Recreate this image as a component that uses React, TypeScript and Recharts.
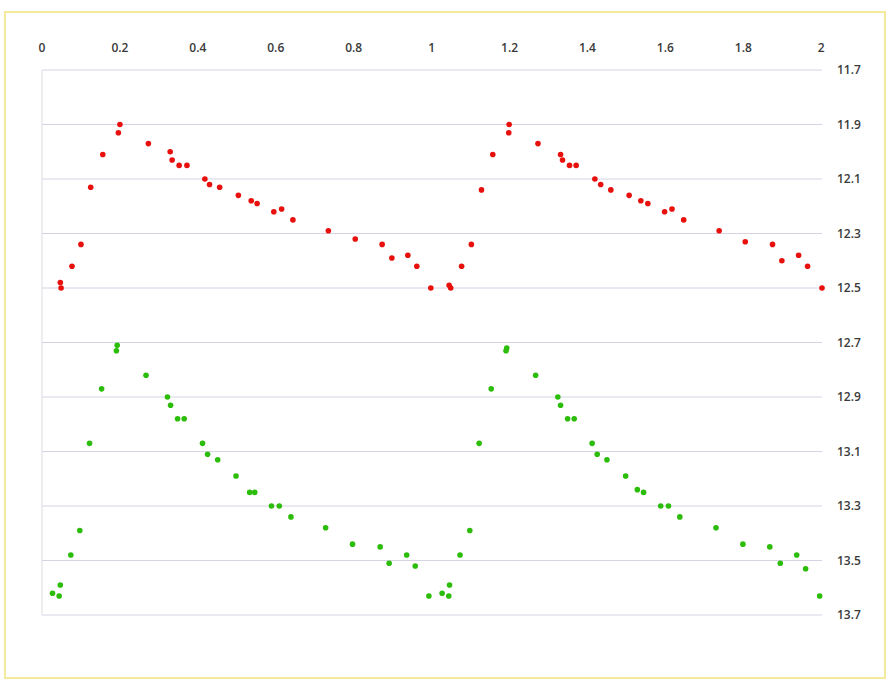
import { ScatterChart, Scatter, XAxis, YAxis, CartesianGrid, ReferenceLine } from "recharts"

// phase (0..2) and magnitude readings
const redPhase = [
  0.047, 0.049, 0.077, 0.1, 0.125, 0.156, 0.196, 0.2, 0.273, 0.329, 0.334, 0.352, 0.372, 0.418, 0.43, 0.456,
  0.504, 0.537, 0.552, 0.595, 0.615, 0.644, 0.735, 0.804, 0.873, 0.898, 0.939, 0.962, 0.998,
  1.045, 1.049, 1.077, 1.102, 1.128, 1.157, 1.198, 1.199, 1.273, 1.331, 1.336, 1.354, 1.371, 1.419, 1.434, 1.46,
  1.507, 1.537, 1.555, 1.598, 1.617, 1.647, 1.738, 1.805, 1.875, 1.899, 1.942, 1.965, 2.002,
]
const redMag = [
  12.48, 12.5, 12.42, 12.34, 12.13, 12.01, 11.93, 11.9, 11.97, 12.0, 12.03, 12.05, 12.05, 12.1, 12.12, 12.13,
  12.16, 12.18, 12.19, 12.22, 12.21, 12.25, 12.29, 12.32, 12.34, 12.39, 12.38, 12.42, 12.5,
  12.49, 12.5, 12.42, 12.34, 12.14, 12.01, 11.93, 11.9, 11.97, 12.01, 12.03, 12.05, 12.05, 12.1, 12.12, 12.14,
  12.16, 12.18, 12.19, 12.22, 12.21, 12.25, 12.29, 12.33, 12.34, 12.4, 12.38, 12.42, 12.5,
]

const greenPhase = [
  0.027, 0.044, 0.047, 0.074, 0.097, 0.122, 0.153, 0.191, 0.193, 0.267, 0.322, 0.33, 0.348, 0.365, 0.412, 0.425,
  0.451, 0.498, 0.533, 0.546, 0.589, 0.609, 0.639, 0.728, 0.797, 0.868, 0.891, 0.936, 0.958, 0.993,
  1.027, 1.044, 1.046, 1.073, 1.098, 1.122, 1.153, 1.191, 1.193, 1.267, 1.324, 1.331, 1.349, 1.366, 1.412, 1.425,
  1.45, 1.498, 1.528, 1.544, 1.588, 1.608, 1.637, 1.73, 1.799, 1.868, 1.895, 1.937, 1.96, 1.996,
]
const greenMag = [
  13.62, 13.63, 13.59, 13.48, 13.39, 13.07, 12.87, 12.73, 12.71, 12.82, 12.9, 12.93, 12.98, 12.98, 13.07, 13.11,
  13.13, 13.19, 13.25, 13.25, 13.3, 13.3, 13.34, 13.38, 13.44, 13.45, 13.51, 13.48, 13.52, 13.63,
  13.62, 13.63, 13.59, 13.48, 13.39, 13.07, 12.87, 12.73, 12.72, 12.82, 12.9, 12.93, 12.98, 12.98, 13.07, 13.11,
  13.13, 13.19, 13.24, 13.25, 13.3, 13.3, 13.34, 13.38, 13.44, 13.45, 13.51, 13.48, 13.53, 13.63,
]

const xTicks = [0, 0.2, 0.4, 0.6, 0.8, 1, 1.2, 1.4, 1.6, 1.8, 2]
const yTicks = [11.7, 11.9, 12.1, 12.3, 12.5, 12.7, 12.9, 13.1, 13.3, 13.5, 13.7]

const redData = redPhase.map((p, i) => ({ phase: p, mag: redMag[i] }))
const greenData = greenPhase.map((p, i) => ({ phase: p, mag: greenMag[i] }))

const dot = (color: string) => (props: any) => (
  <circle cx={props.cx} cy={props.cy} r={2.8} fill={color} />
)

const tickStyle = { fontFamily: "Open Sans", fontSize: 12, fontWeight: 600, fill: "#3a3a3a" }

export default function App() {
  return (
    <div style={{ position: "absolute", left: 0, top: 0, width: 895, height: 681, background: "#fff" }}>
      <div
        style={{
          position: "absolute",
          left: 4,
          top: 11,
          width: 882,
          height: 668,
          border: "2px solid #f4ea9c",
          boxSizing: "border-box",
        }}
      />
      <ScatterChart
        width={895}
        height={681}
        margin={{ top: 30, right: 13, bottom: 66, left: 42 }}
        style={{ position: "absolute", left: 0, top: 0 }}
      >
        <CartesianGrid vertical={false} stroke="#d6d4e4" />
        <XAxis
          type="number"
          dataKey="phase"
          orientation="top"
          domain={[0, 2]}
          ticks={xTicks}
          height={40}
          axisLine={false}
          tickLine={false}
          tickSize={0}
          tickMargin={18}
          tick={tickStyle}
        />
        <YAxis
          type="number"
          dataKey="mag"
          orientation="right"
          domain={[11.7, 13.7]}
          ticks={yTicks}
          reversed
          width={60}
          axisLine={false}
          tickLine={false}
          tickSize={0}
          tickMargin={15}
          tick={tickStyle}
        />
        <ReferenceLine x={0} stroke="#dcdce0" />
        <Scatter data={redData} fill="#e8100c" shape={dot("#e8100c")} isAnimationActive={false} />
        <Scatter data={greenData} fill="#2cbc0a" shape={dot("#2cbc0a")} isAnimationActive={false} />
      </ScatterChart>
    </div>
  )
}
